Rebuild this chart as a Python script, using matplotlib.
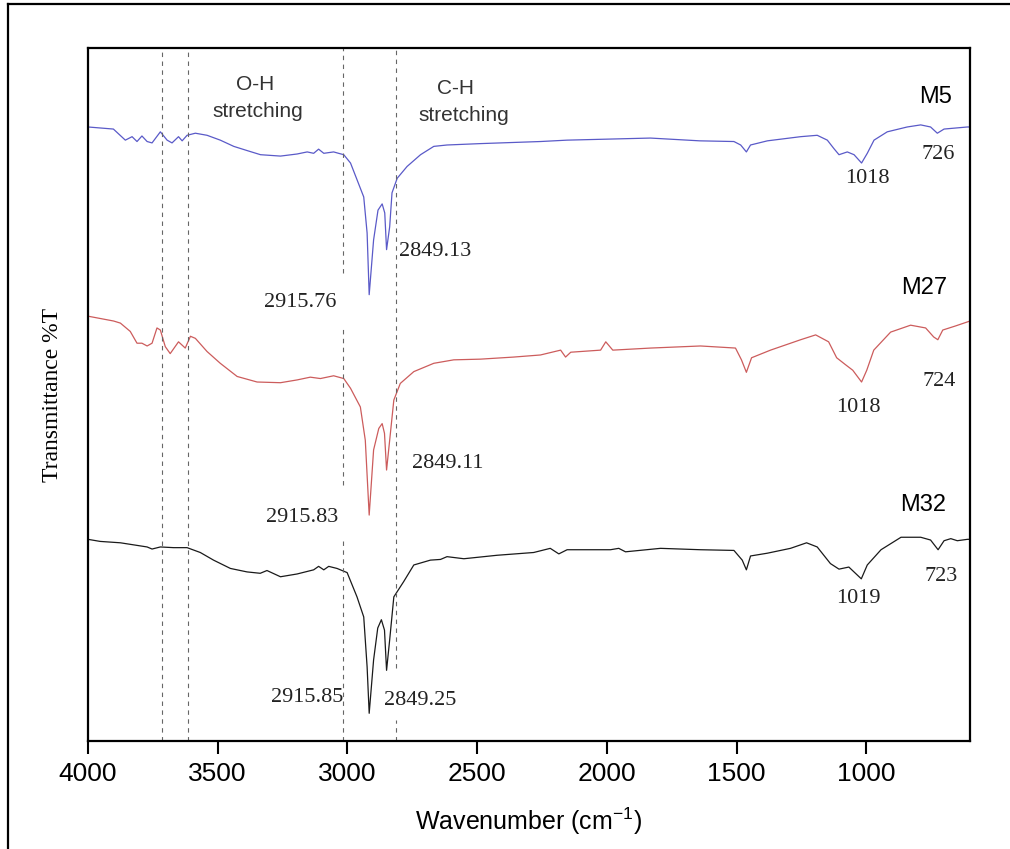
import numpy as np
import matplotlib.pyplot as plt
from matplotlib.lines import Line2D

# spectra (wavenumber cm-1, transmittance in arbitrary offset units)
m5_wn = [4000, 3902, 3856, 3830, 3811, 3792, 3772, 3753, 3721, 3695, 3676, 3651, 3637, 3618,
         3586, 3541, 3490, 3438, 3387, 3335, 3258, 3194, 3155, 3130, 3111, 3091, 3053, 3034,
         3014, 2988, 2963, 2937, 2924, 2916, 2899, 2882, 2866, 2856, 2849, 2837, 2828, 2808,
         2770, 2718, 2667, 2616, 2487, 2410, 2256, 2153, 1832, 1642, 1510, 1484, 1462, 1446,
         1381, 1253, 1189, 1150, 1125, 1105, 1073, 1047, 1018, 996, 970, 919, 842, 790, 752,
         726, 700, 610, 600]
m5_t = [88.6, 88.3, 86.7, 87.2, 86.5, 87.3, 86.5, 86.3, 87.9, 86.7, 86.3, 87.2, 86.6, 87.4,
        87.7, 87.4, 86.7, 85.8, 85.2, 84.6, 84.4, 84.7, 85.0, 84.8, 85.4, 84.8, 85.0, 84.8,
        84.6, 83.4, 81.0, 78.5, 73.3, 64.4, 72.3, 76.6, 77.5, 76.2, 70.9, 74.2, 79.1, 81.2,
        82.9, 84.6, 85.8, 86.0, 86.2, 86.3, 86.5, 86.7, 87.0, 86.6, 86.5, 86.0, 85.0, 86.0,
        86.6, 87.2, 87.4, 86.7, 85.5, 84.6, 85.0, 84.6, 83.4, 84.8, 86.7, 87.9, 88.6, 88.9, 88.6,
        87.7, 88.3, 88.6, 88.6]

m27_wn = [4000, 3901, 3875, 3837, 3811, 3792, 3772, 3753, 3734, 3721, 3702, 3683, 3651, 3625,
          3605, 3586, 3541, 3490, 3425, 3348, 3258, 3194, 3143, 3104, 3053, 3014, 2988, 2950,
          2931, 2916, 2899, 2879, 2866, 2857, 2849, 2837, 2821, 2796, 2744, 2667, 2590, 2487,
          2359, 2256, 2178, 2159, 2139, 2024, 2004, 1977, 1831, 1639, 1504, 1481, 1462, 1442,
          1369, 1253, 1195, 1145, 1114, 1080, 1052, 1018, 998, 971, 906, 829, 771, 740, 724,
          705, 655, 600]
m27_t = [61.3, 60.6, 60.3, 59.1, 57.4, 57.4, 57.0, 57.4, 59.6, 59.3, 56.9, 55.9, 57.6, 56.7,
         58.4, 58.1, 56.2, 54.5, 52.6, 51.8, 51.7, 52.1, 52.5, 52.3, 52.7, 52.3, 50.9, 48.2,
         43.4, 32.6, 42.0, 45.1, 45.8, 44.4, 39.1, 43.4, 49.2, 51.6, 53.3, 54.5, 55.0, 55.1,
         55.4, 55.7, 56.4, 55.4, 56.1, 56.4, 57.6, 56.4, 56.7, 57.0, 56.7, 55.0, 53.2, 55.3,
         56.4, 57.9, 58.6, 57.6, 55.3, 54.3, 53.5, 51.8, 53.5, 56.4, 59.0, 60.0, 59.6, 58.3, 57.9,
         59.3, 59.9, 60.6]

m32_wn = [4000, 3953, 3875, 3772, 3753, 3721, 3670, 3618, 3567, 3516, 3451, 3387, 3336, 3310,
          3258, 3194, 3130, 3111, 3091, 3072, 3040, 3001, 2963, 2937, 2924, 2916, 2899, 2883,
          2869, 2857, 2849, 2837, 2821, 2783, 2744, 2680, 2641, 2616, 2551, 2423, 2282, 2218,
          2185, 2153, 1986, 1954, 1928, 1793, 1639, 1510, 1478, 1462, 1446, 1381, 1292, 1230,
          1189, 1138, 1105, 1067, 1019, 996, 943, 866, 790, 752, 723, 700, 674, 649, 610, 600]
m32_t = [29.1, 28.8, 28.6, 28.0, 27.7, 28.0, 27.9, 27.9, 27.2, 26.1, 24.9, 24.4, 24.2, 24.6,
         23.7, 24.1, 24.7, 25.2, 24.7, 25.2, 24.9, 24.3, 20.8, 17.9, 10.7, 4.0, 11.7, 16.3,
         17.5, 16.0, 10.2, 14.6, 20.8, 23.0, 25.4, 26.1, 26.2, 26.6, 26.3, 26.8, 27.2, 27.8,
         27.0, 27.6, 27.6, 27.8, 27.3, 27.8, 27.6, 27.5, 26.1, 24.7, 26.7, 27.1, 27.8, 28.6,
         28.0, 25.6, 24.8, 25.1, 23.4, 25.4, 27.6, 29.4, 29.4, 29.0, 27.6, 28.9, 29.2, 28.9, 29.1, 29.1]

# dashed marker lines: wavenumber, list of (ymin, ymax) pieces
guide_wn = [3715, 3615, 3017, 2811]
guide_pieces = [[(0, 100)], [(0, 100)],
                [(0, 29.4), (36.9, 60.0), (67.5, 100)],
                [(0, 3.0), (10.5, 100)]]

sample_names = ['M5', 'M27', 'M32']
name_pos = [(732, 92.9), (778, 65.4), (782, 34.1)]

peak_labels = ['726', '1018', '2849.13', '2915.76',
               '724', '1018', '2849.11', '2915.83',
               '723', '1019', '2915.85', '2849.25']
peak_pos = [(724, 84.6), (995, 81.2), (2660, 70.6), (3181, 63.3),
            (720, 51.9), (1030, 48.1), (2614, 40.1), (3173, 32.3),
            (713, 23.7), (1030, 20.6), (3154, 6.3), (2718, 5.9)]

sans = ['Liberation Sans', 'DejaVu Sans']
narrow = ['Liberation Sans Narrow', 'Liberation Sans', 'DejaVu Sans']
serif = ['Liberation Serif', 'DejaVu Serif']

fig = plt.figure(figsize=(10.10, 8.49), dpi=100)
ax = fig.add_axes([0.0871, 0.1272, 0.8733, 0.8163])

ax.plot(m5_wn, m5_t, color='#5a5ac8', lw=0.9)
ax.plot(m27_wn, m27_t, color='#cc5c5c', lw=0.9)
ax.plot(m32_wn, m32_t, color='#1a1a1a', lw=0.9)

for wn, pieces in zip(guide_wn, guide_pieces):
    for lo, hi in pieces:
        ax.vlines(wn, lo, hi, colors='#666666', linestyles=(0, (4, 4)), lw=0.8)

for name, (px, py) in zip(sample_names, name_pos):
    ax.text(px, py, name, fontsize=17, family=sans, ha='center', va='center')

for lab, (px, py) in zip(peak_labels, peak_pos):
    ax.text(px, py, lab, fontsize=16, family=serif, ha='center', va='center',
            color='#222222')

ax.text(3355, 94.7, 'O-H', fontsize=15, family=sans, ha='center', va='center', color='#333333')
ax.text(3346, 90.8, 'stretching', fontsize=15, family=sans, ha='center', va='center', color='#333333')
ax.text(2583, 94.2, 'C-H', fontsize=15, family=sans, ha='center', va='center', color='#333333')
ax.text(2552, 90.3, 'stretching', fontsize=15, family=sans, ha='center', va='center', color='#333333')

ax.set_xlim(4000, 600)
ax.set_ylim(0, 100)
ax.set_xticks([4000, 3500, 3000, 2500, 2000, 1500, 1000])
ax.set_yticks([])
ax.tick_params(axis='x', direction='out', length=9, width=1.5, pad=6, labelsize=19)
for lab in ax.get_xticklabels():
    lab.set_family(narrow)
for s in ax.spines.values():
    s.set_linewidth(1.6)

ax.set_xlabel(r'Wavenumber (cm$^{\mathregular{-1}}$)', fontsize=18, family=narrow, labelpad=14)
ax.set_ylabel('Transmittance %T', fontsize=17, family=serif, labelpad=18)

# outer frame of the original figure (left and top edges)
fig.add_artist(Line2D([8 / 1010, 8 / 1010], [0, 1 - 4 / 849], color='black', lw=1.6))
fig.add_artist(Line2D([8 / 1010, 1], [1 - 4 / 849, 1 - 4 / 849], color='black', lw=1.6))

plt.savefig('out.png', dpi=100)
